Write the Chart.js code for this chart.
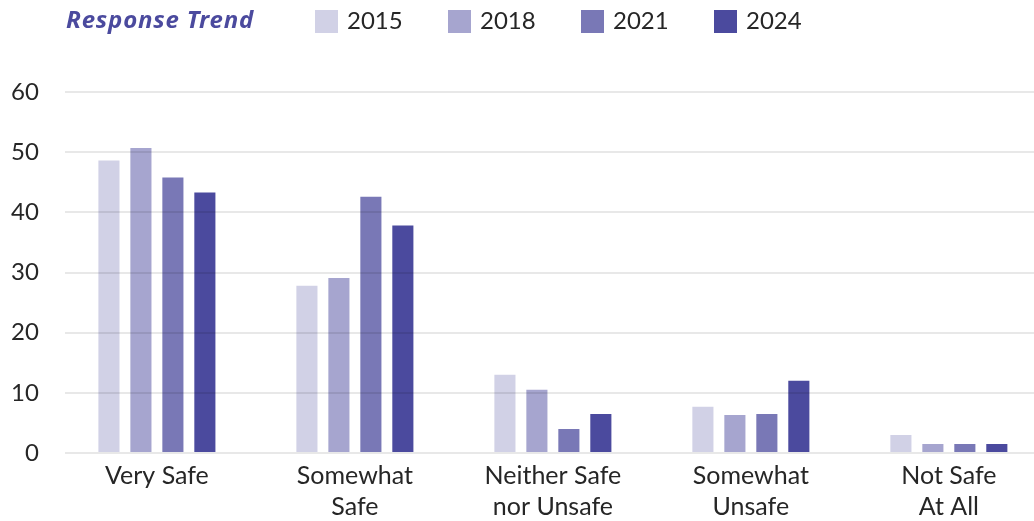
<!DOCTYPE html>
<html lang="en">
<head>
    <meta charset="UTF-8">
    <title>Response Trend</title>
    <script src="https://cdn.jsdelivr.net/npm/chart.js"></script>
    <style>
        body {
            margin: 0;
            background: #ffffff;
            font-family: Lato, sans-serif;
            overflow: hidden;
        }
        .wrap {
            position: relative;
            width: 1034px;
            height: 521px;
            overflow: hidden;
        }
        canvas {
            position: absolute;
            left: 0;
            top: 0;
        }
        .legend {
            position: absolute;
            left: 0;
            top: 0;
            width: 1034px;
            height: 45px;
        }
        .legend .title {
            position: absolute;
            left: 66px;
            top: 7px;
            font-family: "Noto Sans", sans-serif;
            font-size: 24px;
            line-height: 24px;
            letter-spacing: 0.8px;
            font-weight: bold;
            font-style: italic;
            color: #4b4a9e;
            white-space: nowrap;
        }
        .legend .item {
            position: absolute;
            top: 0;
            height: 45px;
        }
        .legend .box {
            position: absolute;
            left: 0;
            top: 9.5px;
            width: 23px;
            height: 23px;
        }
        .legend .label {
            position: absolute;
            left: 32px;
            top: 8px;
            font-size: 24px;
            line-height: 24px;
            color: #262626;
            white-space: nowrap;
        }
    </style>
</head>
<body>
    <div class="wrap">
        <canvas id="trendChart" width="1034" height="529"></canvas>
        <div class="legend" id="legend">
            <span class="title">Response Trend</span>
        </div>
    </div>

    <script>
        const categories = [["Very Safe"], ["Somewhat", "Safe"], ["Neither Safe", "nor Unsafe"], ["Somewhat", "Unsafe"], ["Not Safe", "At All"]];
        const years = ["2015", "2018", "2021", "2024"];
        const values2015 = [48.6, 27.8, 13.0, 7.7, 3.0];
        const values2018 = [50.7, 29.1, 10.5, 6.3, 1.5];
        const values2021 = [45.8, 42.6, 4.0, 6.5, 1.5];
        const values2024 = [43.3, 37.8, 6.5, 12.0, 1.5];
        const yTicks = [0, 10, 20, 30, 40, 50, 60];
        const colors = ["#d1d1e6", "#a6a5cf", "#7978b6", "#4b4a9e"];

        const series = [values2015, values2018, values2021, values2024];

        const datasets = series.map((vals, i) => ({
            label: years[i],
            data: vals.map((v, j) => ({ x: j, y: v })),
            backgroundColor: colors[i],
            categoryPercentage: 0.646,
            barPercentage: 0.66
        }));

        // legend row built from the datasets
        const legend = document.getElementById("legend");
        datasets.forEach((ds, i) => {
            const item = document.createElement("div");
            item.className = "item";
            item.style.left = (315 + i * 133) + "px";
            item.innerHTML = '<span class="box" style="background:' + ds.backgroundColor + '"></span>' +
                '<span class="label">' + ds.label + '</span>';
            legend.appendChild(item);
        });

        new Chart(document.getElementById("trendChart"), {
            type: "bar",
            data: { datasets: datasets },
            options: {
                responsive: false,
                animation: false,
                layout: { padding: { top: 92, left: 11, right: 0, bottom: 0 } },
                plugins: {
                    legend: { display: false },
                    tooltip: { enabled: false }
                },
                scales: {
                    x: {
                        type: "linear",
                        offset: false,
                        min: -0.465,
                        max: 4.43,
                        grid: { display: false, drawTicks: false, offset: false },
                        border: { display: false },
                        afterBuildTicks: axis => {
                            axis.ticks = categories.map((c, i) => ({ value: i }));
                        },
                        afterFit: axis => {
                            axis.paddingLeft = 0;
                            axis.paddingRight = 0;
                        },
                        ticks: {
                            autoSkip: false,
                            maxRotation: 0,
                            padding: 7,
                            color: "#262626",
                            font: { family: "Lato", size: 25, lineHeight: 1.24 },
                            callback: v => categories[v]
                        }
                    },
                    y: {
                        min: 0,
                        max: 60,
                        afterBuildTicks: axis => {
                            axis.ticks = yTicks.map(v => ({ value: v }));
                        },
                        // padding is counted on both sides of the labels, keep only one
                        afterFit: axis => {
                            axis.width -= axis.options.ticks.padding;
                        },
                        grid: { color: "rgba(0,0,0,0.09)", lineWidth: 2, drawTicks: false, z: 1 },
                        border: { display: false },
                        ticks: {
                            padding: 26,
                            color: "#262626",
                            font: { family: "Lato", size: 24 }
                        }
                    }
                }
            }
        });
    </script>
</body>
</html>
